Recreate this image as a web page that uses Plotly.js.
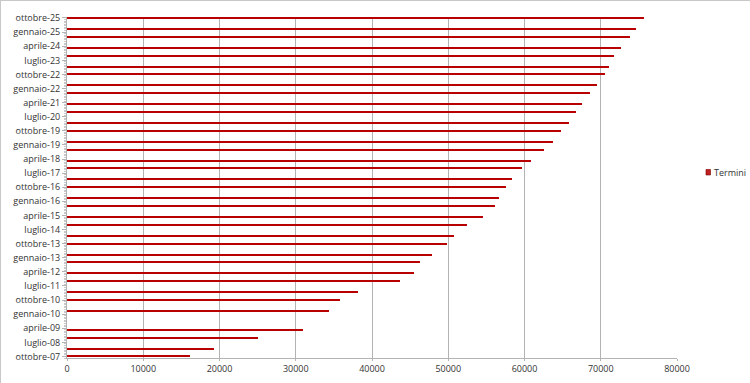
<!DOCTYPE html>
<html>
<head>
<meta charset="utf-8">
<script src="https://cdn.plot.ly/plotly-3.0.1.min.js"></script>
<style>
html,body{margin:0;padding:0;background:#fff;}
#chart{width:750px;height:383px;box-sizing:border-box;border:1px solid #c8c8c8;}
</style>
</head>
<body>
<div id="chart"></div>
<script>
// Data
const seriesName = "Termini";
const dates = [
  "2007-10-01","2008-03-01","2008-10-01","2009-03-01",
  "2010-03-01","2010-10-01","2011-03-01","2011-10-01",
  "2012-03-01","2012-10-01","2013-03-01","2013-10-01",
  "2014-03-01","2014-10-01","2015-03-01","2015-10-01",
  "2016-03-01","2016-10-01","2017-03-01","2017-10-01",
  "2018-03-01","2018-10-01","2019-03-01","2019-10-01",
  "2020-03-01","2020-10-01","2021-03-01","2021-10-01",
  "2022-03-01","2022-10-01","2023-03-01","2023-10-01",
  "2024-03-01","2024-10-01","2025-03-01","2025-10-01"
];
const values = [
  16100,19300,25000,31000,
  34400,35800,38100,43700,
  45500,46300,47900,49800,
  50700,52500,54600,56100,
  56700,57600,58300,59700,
  60900,62600,63700,64800,
  65900,66700,67500,68600,
  69500,70600,71100,71800,
  72700,73800,74600,75700
];
const tickDates = [
  "2007-10-01","2008-07-01","2009-04-01","2010-01-01","2010-10-01",
  "2011-07-01","2012-04-01","2013-01-01","2013-10-01","2014-07-01",
  "2015-04-01","2016-01-01","2016-10-01","2017-07-01","2018-04-01",
  "2019-01-01","2019-10-01","2020-07-01","2021-04-01","2022-01-01",
  "2022-10-01","2023-07-01","2024-04-01","2025-01-01","2025-10-01"
];
const tickLabels = [
  "ottobre-07","luglio-08","aprile-09","gennaio-10","ottobre-10",
  "luglio-11","aprile-12","gennaio-13","ottobre-13","luglio-14",
  "aprile-15","gennaio-16","ottobre-16","luglio-17","aprile-18",
  "gennaio-19","ottobre-19","luglio-20","aprile-21","gennaio-22",
  "ottobre-22","luglio-23","aprile-24","gennaio-25","ottobre-25"
];
const xTicks = [0,10000,20000,30000,40000,50000,60000,70000,80000];
const barColor = "#b80000";

const trace = {
  type: "bar",
  orientation: "h",
  name: seriesName,
  x: values,
  y: dates,
  width: 3.4e9,
  marker: {color: barColor, line: {width: 0}},
  showlegend: false,
  hoverinfo: "x+y"
};

const layout = {
  width: 750, height: 383,
  margin: {l: 66, r: 74, t: 16, b: 26, autoexpand: false},
  paper_bgcolor: "#ffffff",
  plot_bgcolor: "#ffffff",
  font: {family: "Open Sans, sans-serif", size: 9, color: "#333333"},
  bargap: 0,
  showlegend: false,
  xaxis: {
    range: [0, 80000],
    tickvals: xTicks,
    ticktext: xTicks.map(String),
    showgrid: true, gridcolor: "#b3b3b3", gridwidth: 1,
    zeroline: false,
    showline: true, linecolor: "#b3b3b3", linewidth: 1,
    ticks: "outside", ticklen: 2, tickcolor: "#b3b3b3",
    tickfont: {size: 9, color: "#333333"},
    fixedrange: true
  },
  yaxis: {
    type: "date",
    range: ["2007-09-01", "2025-10-20"],
    tickmode: "array",
    tickvals: tickDates,
    ticktext: tickLabels,
    showgrid: false,
    zeroline: false,
    showline: true, linecolor: "#b3b3b3", linewidth: 1,
    ticks: "outside", ticklen: 4, tickcolor: "#b3b3b3",
    minor: {ticks: "outside", ticklen: 2, tickcolor: "#c8c8c8", dtick: "M1", showgrid: false},
    tickfont: {size: 9, color: "#333333"},
    fixedrange: true
  },
  // legend (key square + label), placed to the right of the plot as in the reference
  shapes: [{
    type: "rect", xref: "paper", yref: "paper",
    x0: 1.0475, x1: 1.0549, y0: 0.5367, y1: 0.5528,
    fillcolor: "#c0201f", line: {color: "#7a0000", width: 0.6}
  }],
  annotations: [{
    xref: "paper", yref: "paper",
    x: 1.0574, y: 0.5446, xanchor: "left", yanchor: "middle",
    text: seriesName, showarrow: false,
    font: {size: 9, color: "#333333"}
  }]
};

Plotly.newPlot("chart", [trace], layout, {displayModeBar: false, staticPlot: true});
</script>
</body>
</html>
